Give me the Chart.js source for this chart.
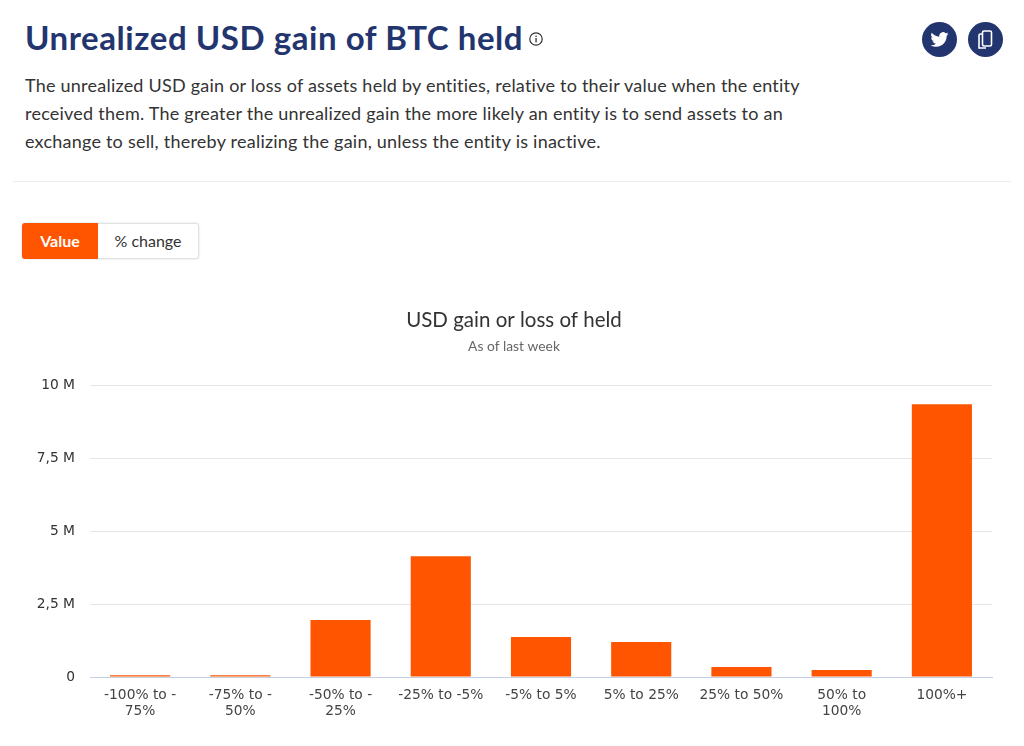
<!DOCTYPE html>
<html>
<head>
<meta charset="utf-8">
<title>Unrealized USD gain of BTC held</title>
<script src="https://cdn.jsdelivr.net/npm/chart.js@4"></script>
<style>
  html, body { margin: 0; padding: 0; background: #fff; }
  body { width: 1024px; height: 746px; position: relative; overflow: hidden; font-family: Lato, sans-serif; }
  h1 { position: absolute; left: 25px; top: 17px; margin: 0; font: 700 33px/40px Lato, sans-serif; letter-spacing: .56px; color: #23356f; white-space: nowrap; }
  .info { position: absolute; left: 528px; top: 31px; }
  .round { position: absolute; top: 22px; width: 35px; height: 35px; border-radius: 50%; background: #23356f; }
  .round svg { position: absolute; left: 0; top: 0; }
  p { position: absolute; left: 25px; top: 71px; margin: 0; width: 820px; font: 400 18px/28px Lato, sans-serif; letter-spacing: .23px; color: #333; }
  hr { position: absolute; left: 13px; top: 181px; width: 998px; margin: 0; border: 0; border-top: 1px solid #ececec; }
  .toggle { position: absolute; left: 22px; top: 223px; height: 36px; display: flex; box-shadow: 0 0 2px #c9d3e0; border-radius: 3px; }
  .toggle div { font-size: 16px; line-height: 36px; text-align: center; }
  .on { width: 76px; background: #ff5500; color: #fff; font-weight: 700; border-radius: 3px 0 0 3px; }
  .off { width: 101px; background: #fff; color: #333; box-sizing: border-box; border: 1px solid #e2e2e2; border-left: 0; border-radius: 0 3px 3px 0; line-height: 34px !important; }
  #wrap { position: absolute; left: 0; top: 296px; width: 1024px; height: 450px; }
</style>
</head>
<body>
<h1>Unrealized USD gain of BTC held</h1>
<svg class="info" width="16" height="16" viewBox="0 0 16 16">
  <circle cx="8" cy="8" r="6.2" fill="none" stroke="#333" stroke-width="1.2"/>
  <rect x="7.4" y="7" width="1.3" height="4.4" fill="#333"/>
  <rect x="7.4" y="4.6" width="1.3" height="1.4" fill="#333"/>
</svg>
<div class="round" style="left:922px">
  <svg width="35" height="35" viewBox="0 0 35 35"><path transform="translate(8.5 8.5) scale(.75)" fill="#fff" d="M23.95 4.57a10 10 0 0 1-2.82.77 4.96 4.96 0 0 0 2.16-2.72 9.9 9.9 0 0 1-3.12 1.19 4.92 4.92 0 0 0-8.38 4.48A13.98 13.98 0 0 1 1.64 3.16a4.92 4.92 0 0 0 1.52 6.57 4.9 4.9 0 0 1-2.23-.61v.06a4.92 4.92 0 0 0 3.95 4.83 4.9 4.9 0 0 1-2.21.08 4.93 4.93 0 0 0 4.6 3.42A9.87 9.87 0 0 1 0 19.54a13.94 13.94 0 0 0 7.55 2.21c9.06 0 14-7.5 14-13.98 0-.21 0-.42-.02-.63a9.94 9.94 0 0 0 2.46-2.55z"/></svg>
</div>
<div class="round" style="left:968px">
  <svg width="35" height="35" viewBox="0 0 35 35"><g fill="none" stroke="#fff" stroke-width="1.6"><rect x="14.5" y="9" width="9" height="15" rx="1.5"/><path d="M14 12h-1.5a1.5 1.5 0 0 0-1.5 1.5V26h7"/></g></svg>
</div>
<p>The unrealized USD gain or loss of assets held by entities, relative to their value when the entity<br>received them. The greater the unrealized gain the more likely an entity is to send assets to an<br>exchange to sell, thereby realizing the gain, unless the entity is inactive.</p>
<hr>
<div class="toggle"><div class="on">Value</div><div class="off">% change</div></div>
<div id="wrap"><canvas id="chart"></canvas></div>
<script>
const categories = [['-100% to -', '75%'], ['-75% to -', '50%'], ['-50% to -', '25%'], '-25% to -5%', '-5% to 5%', '5% to 25%', '25% to 50%', ['50% to', '100%'], '100%+'];
const gainValues = [60000, 60000, 1950000, 4140000, 1370000, 1200000, 340000, 240000, 9350000];
const yTicks = [0, 2500000, 5000000, 7500000, 10000000];
const yTickLabels = ['0', '2,5 M', '5 M', '7,5 M', '10 M'];

const tickFont = { family: 'DejaVu Sans', size: 13.8 };

new Chart(document.getElementById('chart'), {
  type: 'bar',
  data: {
    labels: categories,
    datasets: [{ data: gainValues, backgroundColor: '#ff5500', barPercentage: 0.6, categoryPercentage: 1 }],
  },
  options: {
    responsive: true,
    maintainAspectRatio: false,
    animation: false,
    layout: { padding: { left: 36, right: 32, top: 0, bottom: 0 } },
    plugins: {
      legend: { display: false },
      tooltip: { enabled: false },
      title: {
        display: true,
        text: 'USD gain or loss of held',
        color: '#333',
        font: { family: 'Lato', size: 20.5, weight: '400' },
        padding: { top: 12, bottom: 6 },
      },
      subtitle: {
        display: true,
        text: 'As of last week',
        color: '#666',
        font: { family: 'Lato', size: 13.8, weight: '400' },
        padding: { bottom: 30 },
      },
    },
    scales: {
      x: {
        grid: { display: false, drawTicks: false },
        border: { color: '#c5d0e6', width: 1 },
        ticks: { color: '#444', font: tickFont, maxRotation: 0, minRotation: 0, autoSkip: false, padding: 10 },
        afterFit(scale) { scale.height = 69; },
      },
      y: {
        min: 0,
        max: 10000000,
        grid: { color: '#e6e6e6', drawTicks: false },
        border: { display: false },
        afterFit(scale) { scale.width = 54; },
        afterBuildTicks(scale) { scale.ticks = yTicks.map((value) => ({ value })); },
        ticks: {
          color: '#333',
          font: tickFont,
          padding: 15,
          callback(value) { return yTickLabels[yTicks.indexOf(value)]; },
        },
      },
    },
  },
});
</script>
</body>
</html>
